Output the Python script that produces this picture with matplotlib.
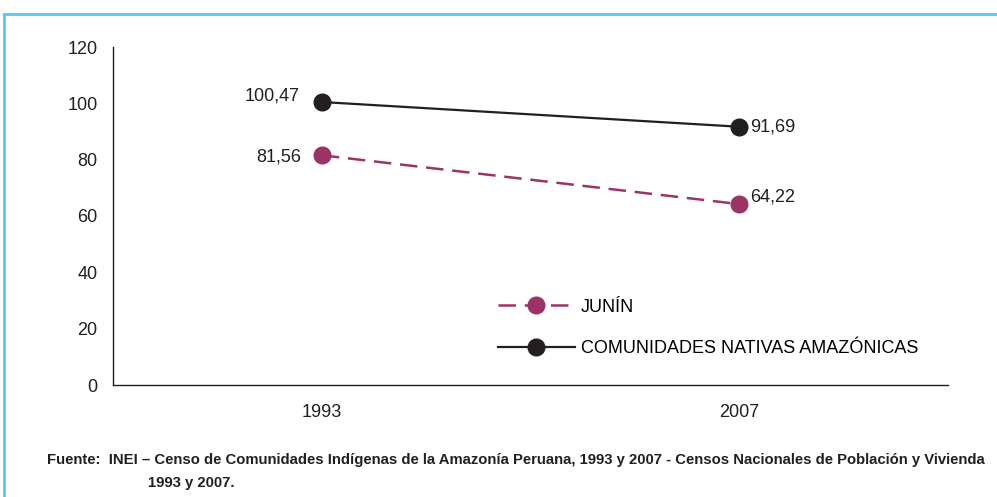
import matplotlib.pyplot as plt
from matplotlib.lines import Line2D
from matplotlib import font_manager

years = ['1993', '2007']
junin = [81.56, 64.22]
comunidades = [100.47, 91.69]
yticks = [0, 20, 40, 60, 80, 100, 120]

names = {f.name for f in font_manager.fontManager.ttflist}
narrow = 'Liberation Sans Narrow' if 'Liberation Sans Narrow' in names else 'Liberation Sans'
plt.rcParams['font.family'] = [narrow, 'DejaVu Sans']

fig = plt.figure(figsize=(9.97, 4.97), dpi=100)
ax = fig.add_axes([113 / 997, 1 - 385 / 497, 835 / 997, 338 / 497])

x = range(len(years))
ax.plot(x, junin, color='#9B3366', linestyle=(0, (7, 3.5)), linewidth=1.8,
        marker='o', markersize=12, label='JUNÍN')
ax.plot(x, comunidades, color='#231F20', linestyle='-', linewidth=1.6,
        marker='o', markersize=12, label='COMUNIDADES NATIVAS AMAZÓNICAS')


def fmt(v):
    return f'{v:.2f}'.replace('.', ',')


# value labels
ax.annotate(fmt(comunidades[0]), (0, comunidades[0]),
            xytext=(-16, 4), textcoords='offset points', ha='right', va='center',
            fontsize=13, color='#231F20')
ax.annotate(fmt(junin[0]), (0, junin[0]),
            xytext=(-15, -1), textcoords='offset points', ha='right', va='center',
            fontsize=13, color='#231F20')
ax.annotate(fmt(comunidades[1]), (1, comunidades[1]),
            xytext=(8, 0), textcoords='offset points', ha='left', va='center',
            fontsize=13, color='#231F20')
ax.annotate(fmt(junin[1]), (1, junin[1]),
            xytext=(8, 5), textcoords='offset points', ha='left', va='center',
            fontsize=13, color='#231F20')

ax.set_xlim(-0.5, 1.5)
ax.set_ylim(0, 120)
ax.set_xticks(list(x))
ax.set_xticklabels(years)
ax.set_yticks(yticks)
ax.tick_params(length=0, labelsize=13, colors='#231F20')
ax.tick_params(axis='x', pad=14)
ax.tick_params(axis='y', pad=11)
for side in ['top', 'right']:
    ax.spines[side].set_visible(False)
for side in ['left', 'bottom']:
    ax.spines[side].set_color('#231F20')
    ax.spines[side].set_linewidth(1.0)

ax.legend(loc='upper left', bbox_to_anchor=(0.452, 0.277), frameon=False,
          fontsize=13, handlelength=4.3, handletextpad=0.3, labelspacing=1.35,
          borderaxespad=0)

# frame lines
blue = '#5BC5F0'
fig.add_artist(Line2D([4 / 997, 1], [1 - 14 / 497, 1 - 14 / 497], color=blue, lw=2))
fig.add_artist(Line2D([4 / 997, 4 / 997], [0, 1 - 14 / 497], color=blue, lw=2))

fig.text(47 / 997, 1 - 460 / 497,
         'Fuente:  INEI – Censo de Comunidades Indígenas de la Amazonía Peruana, 1993 y 2007 - '
         'Censos Nacionales de Población y Vivienda',
         fontsize=10.7, fontweight='bold', color='#231F20', va='center')
fig.text(148 / 997, 1 - 483 / 497, '1993 y 2007.',
         fontsize=10.7, fontweight='bold', color='#231F20', va='center')

fig.savefig('out.png', dpi=100)
